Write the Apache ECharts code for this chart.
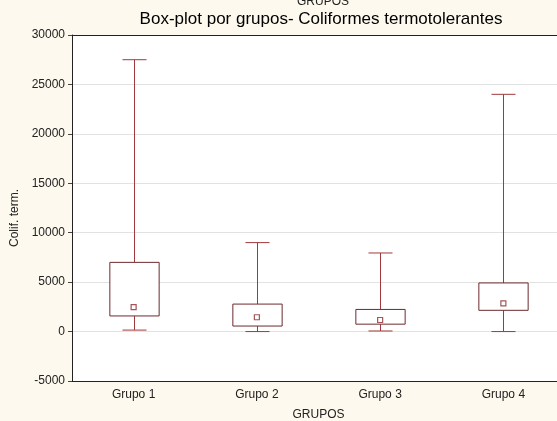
<!DOCTYPE html>
<html>
<head>
<meta charset="utf-8">
<script src="https://cdn.jsdelivr.net/npm/echarts@6/dist/echarts.min.js"></script>
<style>
html,body{margin:0;padding:0;background:#fdf9ee;}
#c{width:557px;height:421px;}
</style>
</head>
<body>
<div id="c"></div>
<script>
var categories = ['Grupo 1', 'Grupo 2', 'Grupo 3', 'Grupo 4'];
var whiskerMin = [150, 0, 60, 0];
var q1 = [1580, 560, 750, 2150];
var q3 = [7000, 2780, 2240, 4920];
var whiskerMax = [27500, 9000, 7950, 24000];
var means = [2470, 1450, 1170, 2860];
var yTicks = [-5000, 0, 5000, 10000, 15000, 20000, 25000, 30000];

var boxData = categories.map(function (c, i) {
  return [i, whiskerMin[i], q1[i], q3[i], whiskerMax[i]];
});
var meanData = categories.map(function (c, i) { return [i, means[i]]; });

var chart = echarts.init(document.getElementById('c'), null, {renderer: 'canvas'});

function renderBox(params, api) {
  var idx = api.value(0);
  var band = api.size([1, 0])[0];
  var boxW = band * 0.4;
  var capW = band * 0.195;
  var pMin = api.coord([idx, api.value(1)]);
  var pQ1 = api.coord([idx, api.value(2)]);
  var pQ3 = api.coord([idx, api.value(3)]);
  var pMax = api.coord([idx, api.value(4)]);
  var x = Math.round(pMin[0]) + 0.5;
  var whiskerStyle = {stroke: '#a0393c', lineWidth: 1};
  return {
    type: 'group',
    children: [
      {type: 'line', shape: {x1: x, y1: pMax[1], x2: x, y2: pQ3[1]}, style: whiskerStyle},
      {type: 'line', shape: {x1: x, y1: pQ1[1], x2: x, y2: pMin[1]}, style: whiskerStyle},
      {type: 'line', shape: {x1: x - capW / 2, y1: pMax[1], x2: x + capW / 2, y2: pMax[1]}, style: whiskerStyle},
      {type: 'line', shape: {x1: x - capW / 2, y1: pMin[1], x2: x + capW / 2, y2: pMin[1]}, style: whiskerStyle},
      {type: 'rect', shape: {x: x - boxW / 2, y: pQ3[1], width: boxW, height: pQ1[1] - pQ3[1]},
        style: {fill: '#ffffff', stroke: '#6e2a2e', lineWidth: 1}}
    ]
  };
}

chart.setOption({
  backgroundColor: '#fdf9ee',
  animation: false,
  title: [
    {text: 'Box-plot por grupos- Coliformes termotolerantes', left: 316, textAlign: 'center', top: 6,
      textStyle: {fontFamily: 'Liberation Sans, Arial', fontSize: 17, fontWeight: 'normal', color: '#000'}},
    {text: 'GRUPOS', left: 318, textAlign: 'center', top: -9,
      textStyle: {fontFamily: 'Liberation Sans, Arial', fontSize: 12, fontWeight: 'normal', color: '#222'}}
  ],
  grid: {left: 72, top: 35, bottom: 40, right: -8, show: true, backgroundColor: '#ffffff', borderWidth: 0,
    outerBoundsMode: 'none', containLabel: false},
  xAxis: [{
    type: 'category',
    data: categories,
    name: 'GRUPOS',
    nameLocation: 'middle',
    nameGap: 28,
    nameTextStyle: {fontFamily: 'Liberation Sans, Arial', fontSize: 12, color: '#222'},
    axisLine: {onZero: false, lineStyle: {color: '#222', width: 1}},
    axisTick: {alignWithLabel: true, length: 5, lineStyle: {color: '#444'}},
    axisLabel: {fontFamily: 'Liberation Sans, Arial', fontSize: 12, color: '#222', margin: 8},
    splitLine: {show: false}
  }, {
    type: 'category',
    data: categories,
    position: 'top',
    axisLine: {onZero: false, lineStyle: {color: '#222', width: 1}},
    axisTick: {alignWithLabel: true, inside: false, length: 4, lineStyle: {color: '#444'}},
    axisLabel: {show: false}
  }],
  yAxis: {
    type: 'value',
    min: -5000,
    max: 30000,
    interval: 5000,
    name: 'Colif. term.',
    nameLocation: 'middle',
    nameGap: 45,
    nameTextStyle: {fontFamily: 'Liberation Sans, Arial', fontSize: 12, color: '#222', padding: [0, 20, 0, 0]},
    axisLine: {show: true, onZero: false, lineStyle: {color: '#222', width: 1}},
    axisTick: {show: true, length: 4, lineStyle: {color: '#444'}},
    axisLabel: {fontFamily: 'Liberation Sans, Arial', fontSize: 12, color: '#222', margin: 7,
      formatter: function (v) { return yTicks.indexOf(v) >= 0 ? String(v) : ''; }},
    splitLine: {show: true, lineStyle: {color: '#e2e2e2', width: 1}}
  },
  series: [{
    type: 'custom',
    renderItem: renderBox,
    data: boxData,
    encode: {x: 0, y: [1, 2, 3, 4]},
    z: 3
  }, {
    type: 'scatter',
    data: meanData,
    symbol: 'rect',
    symbolSize: 5,
    itemStyle: {color: '#ffffff', borderColor: '#8c2b30', borderWidth: 1.2},
    z: 4
  }]
});
</script>
</body>
</html>
